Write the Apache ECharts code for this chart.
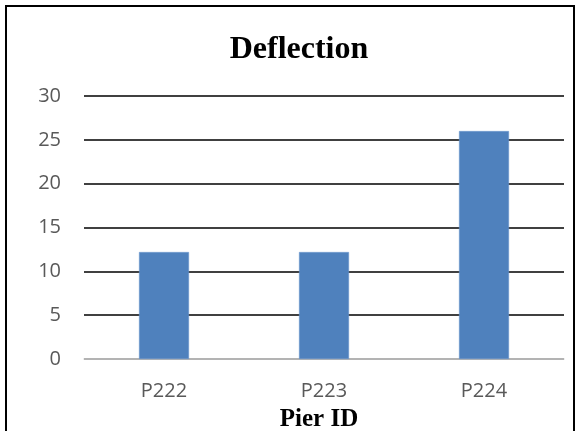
<!DOCTYPE html>
<html>
<head>
<meta charset="utf-8">
<script src="https://cdn.jsdelivr.net/npm/echarts@6/dist/echarts.min.js"></script>
<style>html,body{margin:0;padding:0;background:#fff;overflow:hidden;}#c{width:579px;height:431px;}</style>
</head>
<body>
<div id="c"></div>
<script>
var categories = ['P222', 'P223', 'P224'];
var deflection = [12.2, 12.2, 26];
var yTicks = [0, 5, 10, 15, 20, 25, 30];

var chart = echarts.init(document.getElementById('c'), null, {renderer: 'canvas', width: 579, height: 431});
chart.setOption({
  animation: false,
  backgroundColor: '#fff',
  title: {
    text: 'Deflection',
    left: 294, textAlign: 'center',
    top: 29,
    textStyle: {fontFamily: 'Liberation Serif', fontWeight: 'bold', fontSize: 32, color: '#000'}
  },
  graphic: [{
    type: 'rect',
    shape: {x: 6, y: 6, width: 568, height: 440},
    style: {fill: 'none', stroke: '#000', lineWidth: 2},
    silent: true
  }],
  grid: {left: 84, width: 480, top: 96, height: 263, containLabel: false, outerBoundsMode: 'none'},
  xAxis: {
    type: 'category',
    data: categories,
    name: 'Pier ID',
    nameLocation: 'middle',
    nameGap: 48,
    nameTextStyle: {fontFamily: 'Liberation Serif', fontWeight: 'bold', fontSize: 25, color: '#000', padding: [0, 10, 0, 0]},
    axisLine: {show: true, lineStyle: {color: '#d9d9d9', width: 1.5}},
    axisTick: {show: false},
    axisLabel: {margin: 22, fontFamily: 'Open Sans', fontSize: 20, color: '#595959'}
  },
  yAxis: {
    type: 'value',
    min: yTicks[0], max: yTicks[yTicks.length - 1], interval: 5,
    axisLine: {show: false},
    axisTick: {show: false},
    axisLabel: {margin: 23, fontFamily: 'Open Sans', fontSize: 20, color: '#595959'},
    splitLine: {show: true, lineStyle: {color: '#000', width: 1.5}}
  },
  series: [{
    type: 'bar',
    data: deflection,
    barWidth: 50,
    itemStyle: {color: '#4f81bd', borderColor: '#6f9bd1', borderWidth: 0.5},
    z: 3
  }]
});
</script>
</body>
</html>
